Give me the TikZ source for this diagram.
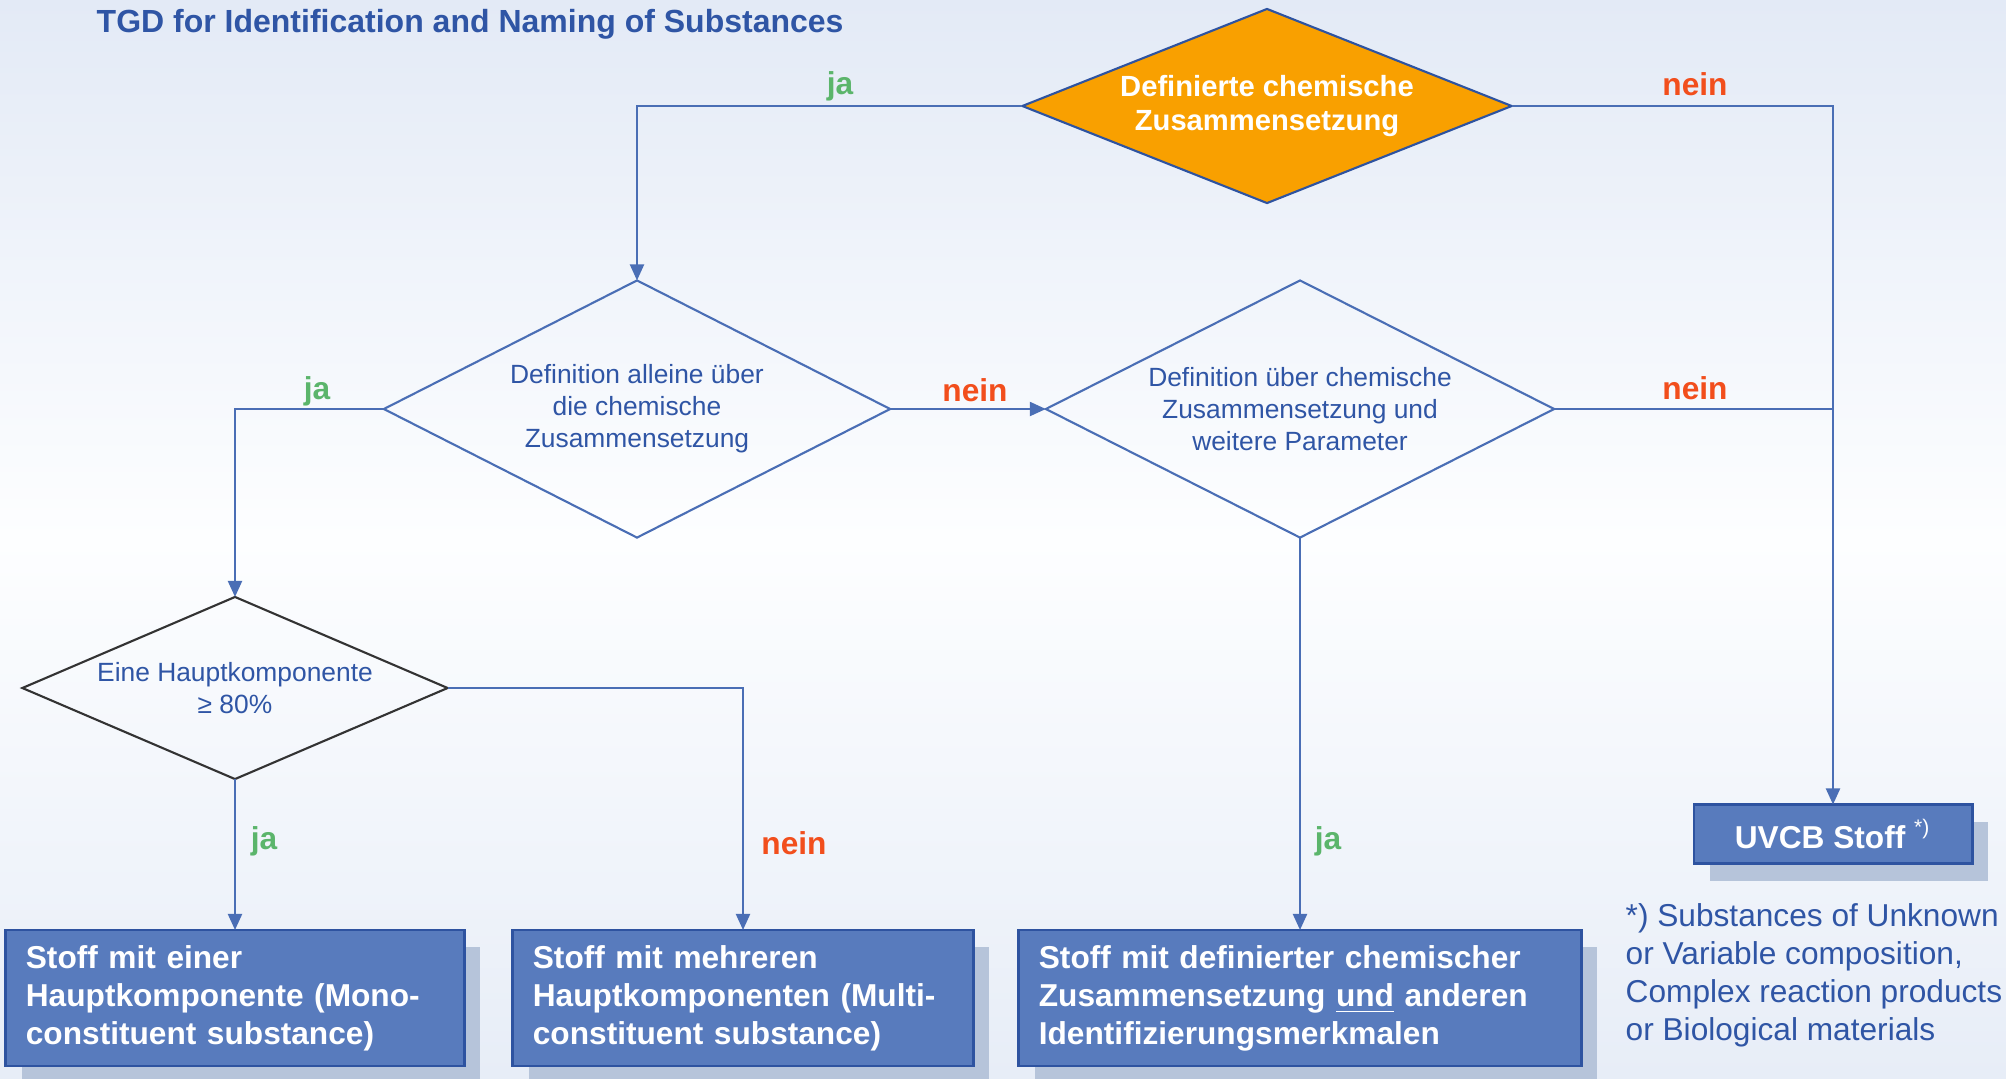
\documentclass[tikz,border=0pt]{standalone}
\usepackage{fontspec}
\setmainfont{Liberation Sans}
\usetikzlibrary{shapes.geometric,arrows.meta,shadows}

\definecolor{bgtop}{HTML}{E3EAF6}
\definecolor{bgmid}{HTML}{FDFEFF}
\definecolor{bgbottom}{HTML}{E7EDF7}
\definecolor{flowblue}{HTML}{4A6EB5}
\definecolor{textblue}{HTML}{2F55A5}
\definecolor{orangefill}{HTML}{F9A000}
\definecolor{boxfill}{HTML}{587BBD}
\definecolor{boxborder}{HTML}{2E53A0}
\definecolor{shadowcol}{HTML}{B6C4DA}
\definecolor{jagreen}{HTML}{5BB56B}
\definecolor{neinred}{HTML}{F24E1C}
\definecolor{darkline}{HTML}{333333}

\tikzset{
  decision/.style={diamond, draw=flowblue, line width=0.6pt, inner sep=0pt, outer sep=0pt,
    align=center, text=textblue, font=\fontsize{7.5}{9.1}\selectfont},
  result/.style={rectangle, draw=boxborder, line width=0.8pt, fill=boxfill, text=white,
    font=\bfseries\fontsize{9}{10.8}\selectfont, align=left, inner xsep=0.2cm, inner ysep=0pt,
    minimum height=1.36cm, outer sep=0pt,
    drop shadow={shadow xshift=0.16cm, shadow yshift=-0.17cm, fill=shadowcol, opacity=1}},
  flow/.style={draw=flowblue, line width=0.6pt},
  arrowflow/.style={flow, -{Triangle[length=0.16cm,width=0.14cm]}},
  jalabel/.style={text=jagreen, font=\bfseries\fontsize{9}{10.8}\selectfont},
  neinlabel/.style={text=neinred, font=\bfseries\fontsize{9}{10.8}\selectfont}
}

\begin{document}
\begin{tikzpicture}[x=0.01cm,y=-0.01cm]

% background
\useasboundingbox (0,0) rectangle (2006,1078);
\shade[top color=bgtop, bottom color=bgbottom, middle color=bgmid] (0,0) rectangle (2006,1078);

% title
\node[anchor=west, inner sep=0pt, text=textblue, font=\bfseries\fontsize{9.1}{11}\selectfont] (title) at (96,24) {TGD for Identification and Naming of Substances};

% decisions
\node[decision, fill=orangefill, draw=boxborder, text=white, font=\bfseries\fontsize{8.3}{9.8}\selectfont,
  aspect=2.52, minimum width=4.89cm, minimum height=1.94cm] (chem) at (1267,106) {Definierte chemische\\Zusammensetzung};
\node[decision, aspect=1.97, minimum width=5.06cm, minimum height=2.57cm] (alone) at (637,409) {Definition alleine über\\die chemische\\Zusammensetzung};
\node[decision, aspect=1.98, minimum width=5.08cm, minimum height=2.57cm] (param) at (1300,409) {Definition über chemische\\Zusammensetzung und\\weitere Parameter};
\node[decision, draw=darkline, aspect=2.34, minimum width=4.25cm, minimum height=1.82cm] (main) at (235,688) {Eine Hauptkomponente\\≥ 80\%};

% results
\node[result, text width=4.18cm] (mono) at (235,998) {Stoff mit einer\\Hauptkomponente (Mono-\\constituent substance)};
\node[result, text width=4.20cm] (multi) at (743,998) {Stoff mit mehreren\\Hauptkomponenten (Multi-\\constituent substance)};
\node[result, text width=5.22cm] (defined) at (1300,998) {Stoff mit definierter chemischer\\Zusammensetzung \underline{und} anderen\\Identifizierungsmerkmalen};
\node[result, align=center, minimum width=2.78cm, minimum height=0.59cm] (uvcb) at (1833,834) {UVCB Stoff \textsuperscript{\mdseries *)}};

% footnote
\node[anchor=west, inner sep=0pt, align=left, text=textblue, font=\fontsize{9}{10.8}\selectfont] (note) at (1625,975)
  {*) Substances of Unknown\\or Variable composition,\\Complex reaction products\\or Biological materials};

% connectors
\draw[arrowflow] (chem.west) -| (alone.north);
\draw[arrowflow] (chem.east) -| (uvcb.north);
\draw[arrowflow] (alone.west) -| (main.north);
\draw[arrowflow] (alone.east) -- (param.west);
\draw[flow] (param.east) -- (param.east -| uvcb.north);
\draw[arrowflow] (param.south) -- (defined.north);
\draw[arrowflow] (main.south) -- (mono.north);
\draw[arrowflow] (main.east) -| (multi.north);

% labels
\node[jalabel] (ja1) at (840,86) {ja};
\node[neinlabel] (nein1) at (1695,84) {nein};
\node[jalabel] (ja2) at (317,391) {ja};
\node[neinlabel] (nein2) at (975,390) {nein};
\node[neinlabel] (nein3) at (1695,388) {nein};
\node[jalabel] (ja3) at (264,841) {ja};
\node[neinlabel] (nein4) at (794,843) {nein};
\node[jalabel] (ja4) at (1328,841) {ja};

\end{tikzpicture}
\end{document}
